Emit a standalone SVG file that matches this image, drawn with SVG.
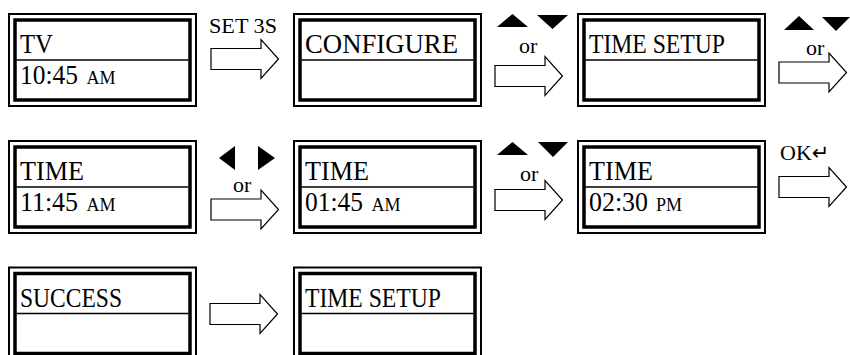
<svg xmlns="http://www.w3.org/2000/svg" xmlns:xlink="http://www.w3.org/1999/xlink" width="850" height="355" viewBox="0 0 850 355">
  <style>
    .outer { fill: #fff; stroke: #000; stroke-width: 2; }
    .inner { fill: none; stroke: #000; stroke-width: 3.5; }
    .div { stroke: #000; stroke-width: 1.3; }
    .big { font-family: "Liberation Serif", "Times New Roman", serif; font-size: 27px; fill: #000; }
    .small { font-family: "Liberation Serif", "Times New Roman", serif; font-size: 18px; fill: #000; }
    .lbl { font-family: "Liberation Serif", "Times New Roman", serif; font-size: 22px; fill: #000; }
    .arr { fill: #fff; stroke: #000; stroke-width: 1.2; stroke-linejoin: miter; }
    .tri { fill: #000; }
  </style>
  <defs>
    <path id="arrow" d="M0,-10.5 H50 V-19.5 L67.5,0 L50,19.5 V10.5 H0 Z"/>
    <g id="frame">
      <rect class="outer" x="0" y="0" width="187" height="92"/>
      <rect class="inner" x="6" y="6" width="175" height="80"/>
      <line class="div" x1="7.5" y1="46" x2="179.5" y2="46"/>
    </g>
  </defs>
  <rect width="850" height="355" fill="#fff"/>

  <!-- Row 1 -->
  <g id="node-tv" transform="translate(9,14)">
    <use xlink:href="#frame"/>
    <text class="big" x="11" y="39" textLength="33" lengthAdjust="spacingAndGlyphs">TV</text>
    <text class="big" x="11" y="70" textLength="58" lengthAdjust="spacingAndGlyphs">10:45</text>
    <text class="small" x="77.5" y="70">AM</text>
  </g>
  <g id="node-configure" transform="translate(294,14)">
    <use xlink:href="#frame"/>
    <text class="big" x="11" y="39" textLength="153" lengthAdjust="spacingAndGlyphs">CONFIGURE</text>
  </g>
  <g id="node-timesetup-1" transform="translate(578,14)">
    <use xlink:href="#frame"/>
    <text class="big" x="11" y="39" textLength="136" lengthAdjust="spacingAndGlyphs">TIME SETUP</text>
  </g>

  <!-- Row 2 -->
  <g id="node-time-1" transform="translate(9,141)">
    <use xlink:href="#frame"/>
    <text class="big" x="11" y="39" textLength="64" lengthAdjust="spacingAndGlyphs">TIME</text>
    <text class="big" x="11" y="70" textLength="58" lengthAdjust="spacingAndGlyphs">11:45</text>
    <text class="small" x="77.5" y="70">AM</text>
  </g>
  <g id="node-time-2" transform="translate(294,141)">
    <use xlink:href="#frame"/>
    <text class="big" x="11" y="39" textLength="64" lengthAdjust="spacingAndGlyphs">TIME</text>
    <text class="big" x="11" y="70" textLength="58" lengthAdjust="spacingAndGlyphs">01:45</text>
    <text class="small" x="77.5" y="70">AM</text>
  </g>
  <g id="node-time-3" transform="translate(578,141)">
    <use xlink:href="#frame"/>
    <text class="big" x="11" y="39" textLength="64" lengthAdjust="spacingAndGlyphs">TIME</text>
    <text class="big" x="11" y="70" textLength="59" lengthAdjust="spacingAndGlyphs">02:30</text>
    <text class="small" x="78" y="70">PM</text>
  </g>

  <!-- Row 3 -->
  <g id="node-success" transform="translate(9,267.5)">
    <use xlink:href="#frame"/>
    <text class="big" x="11" y="39" textLength="102" lengthAdjust="spacingAndGlyphs">SUCCESS</text>
  </g>
  <g id="node-timesetup-2" transform="translate(294,267.5)">
    <use xlink:href="#frame"/>
    <text class="big" x="11" y="39" textLength="136" lengthAdjust="spacingAndGlyphs">TIME SETUP</text>
  </g>

  <!-- Connectors -->
  <g id="connectors">
    <use class="arr" xlink:href="#arrow" x="211" y="59"/>
    <use class="arr" xlink:href="#arrow" x="495" y="76"/>
    <use class="arr" xlink:href="#arrow" x="779" y="72.5"/>
    <use class="arr" xlink:href="#arrow" x="211" y="209.5"/>
    <use class="arr" xlink:href="#arrow" x="495" y="200"/>
    <use class="arr" xlink:href="#arrow" x="779" y="187"/>
    <use class="arr" xlink:href="#arrow" x="210" y="314"/>

    <!-- labels -->
    <text class="lbl" x="209" y="33" textLength="68" lengthAdjust="spacingAndGlyphs">SET 3S</text>

    <polygon class="tri" points="497,27 512.5,14 528,27"/>
    <polygon class="tri" points="537,15 568,15 552.5,29"/>
    <text class="lbl" x="519" y="53">or</text>

    <polygon class="tri" points="784,30 799,16 814,30"/>
    <polygon class="tri" points="822,17 850,17 836,31"/>
    <text class="lbl" x="806" y="55">or</text>

    <polygon class="tri" points="219,158 235,146 235,170"/>
    <polygon class="tri" points="258,146 275,158 258,170"/>
    <text class="lbl" x="233" y="192">or</text>

    <polygon class="tri" points="497,155 512.5,142 528,155"/>
    <polygon class="tri" points="538,142 568,142 553,157"/>
    <text class="lbl" x="520" y="181">or</text>

    <text class="lbl" x="780" y="160" font-size="21">OK<tspan font-family="'DejaVu Sans', sans-serif" font-size="21" dx="0">↵</tspan></text>
  </g>
</svg>
